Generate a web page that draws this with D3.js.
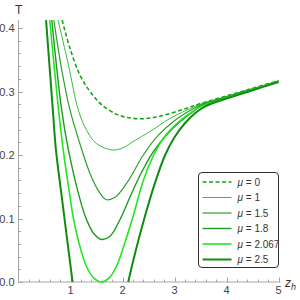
<!DOCTYPE html>
<meta charset="utf-8">
<script src="https://d3js.org/d3.v7.min.js"></script>
<style>
  body { margin: 0; background: white; }
  text { font-family: "Liberation Sans", Arial, sans-serif; }
</style>
<div id="chart"></div>
<script>

// values: [z_h, T]
const muLabels = ["0", "1", "1.5", "1.8", "2.067", "2.5"];

const curveMu0 = [[0.84,0.4125],[0.99,0.368],[1.18,0.326],[1.375,0.300],[1.6,0.279],[1.89,0.264],[2.1,0.259],[2.35,0.257],[2.6,0.259],[2.9,0.265],[3.25,0.274],[3.5,0.281],[4,0.293],[4.5,0.305],[5,0.317]];
const curveMu1 = [[0.76,0.4125],[0.96,0.342],[1.15,0.271],[1.31,0.239],[1.5,0.218],[1.8,0.208],[2.0,0.211],[2.2,0.221],[2.55,0.238],[2.9,0.257],[3.35,0.275],[3.5,0.280],[4,0.292],[4.5,0.304],[5,0.317]];
const curveMu15 = [[0.68,0.4125],[0.83,0.335],[0.99,0.271],[1.18,0.218],[1.375,0.171],[1.55,0.142],[1.68,0.130],[1.85,0.133],[2.1,0.158],[2.4,0.200],[2.7,0.232],[3.0,0.254],[3.3,0.270],[3.5,0.279],[4,0.292],[4.5,0.304],[5,0.316]];
const curveMu18 = [[0.64,0.4125],[0.83,0.271],[0.96,0.208],[1.2,0.125],[1.31,0.098],[1.45,0.076],[1.6,0.067],[1.76,0.072],[1.95,0.098],[2.14,0.133],[2.35,0.170],[2.59,0.205],[2.85,0.232],[3.1,0.252],[3.35,0.268],[3.5,0.277],[4,0.291],[4.5,0.304],[5,0.316]];
const curveMu2067 = [[0.60,0.4125],[0.77,0.271],[0.86,0.208],[1.0,0.129],[1.05,0.103],[1.18,0.056],[1.31,0.024],[1.45,0.006],[1.6,0.0],[1.75,0.007],[1.89,0.026],[2.03,0.058],[2.21,0.105],[2.4,0.160],[2.6,0.200],[2.8,0.228],[3.05,0.250],[3.3,0.266],[3.5,0.276],[4,0.290],[4.5,0.303],[5,0.316]];
// the mu = 2.5 curve leaves the plot below T = 0, so it is two pieces
const curveMu25 = [[0.53,0.4125],[0.66,0.271],[0.72,0.208],[0.84,0.129],[0.94,0.064],[1.04,0.0],[null,null],[2.11,0.0],[2.25,0.048],[2.43,0.103],[2.62,0.155],[2.82,0.200],[3.0,0.228],[3.2,0.250],[3.4,0.266],[3.6,0.277],[4,0.289],[4.5,0.302],[5,0.315]];

const xTicks = [1, 2, 3, 4, 5];
const yTicks = [0.0, 0.1, 0.2, 0.3, 0.4];

// line styles for each mu
const styles = [
  {color: "#1aa31a", width: 1.6, dash: "4,2.5"},
  {color: "#38bd38", width: 1,   dash: null},
  {color: "#2e9e2e", width: 1.2, dash: null},
  {color: "#209a20", width: 1.4, dash: null},
  {color: "#22e622", width: 1.6, dash: null},
  {color: "#108c10", width: 2,   dash: null}
];

const series = [curveMu0, curveMu1, curveMu15, curveMu18, curveMu2067, curveMu25];

const width = 300, height = 300;

const svg = d3.select("#chart")
  .append("svg")
    .attr("width", width)
    .attr("height", height);

const x = d3.scaleLinear().domain([0, 5]).range([18.5, 278.5]);
const y = d3.scaleLinear().domain([0, 0.4]).range([282, 28]);

// clip region of the plot
svg.append("clipPath").attr("id", "plotclip")
  .append("rect")
    .attr("x", x(0)).attr("y", y(0.4125))
    .attr("width", x(5.05) - x(0)).attr("height", y(0) - y(0.4125) + 1);

const axisColor = "#a6a6a6";

// y axis
const yAxis = svg.append("g").attr("transform", "translate(" + x(0) + ",0)");
yAxis.append("line")
  .attr("x1", 0).attr("x2", 0)
  .attr("y1", y(0)).attr("y2", y(0.4125))
  .attr("stroke", axisColor);
yAxis.selectAll(".minor")
  .data(d3.range(0, 0.4101, 0.02))
  .enter().append("line")
    .attr("x1", 0).attr("x2", 2.5)
    .attr("y1", d => Math.round(y(d)) + 0.5).attr("y2", d => Math.round(y(d)) + 0.5)
    .attr("stroke", axisColor);
yAxis.selectAll(".major")
  .data(yTicks)
  .enter().append("line")
    .attr("x1", 0).attr("x2", 4.5)
    .attr("y1", d => Math.round(y(d)) + 0.5).attr("y2", d => Math.round(y(d)) + 0.5)
    .attr("stroke", axisColor);
yAxis.selectAll("text")
  .data(yTicks)
  .enter().append("text")
    .attr("x", -4)
    .attr("y", d => y(d) + 4)
    .attr("text-anchor", "end")
    .attr("font-size", 11)
    .attr("fill", "#444")
    .text(d => d3.format(".1f")(d));

// x axis
const xAxis = svg.append("g").attr("transform", "translate(0," + y(0) + ")");
xAxis.append("line")
  .attr("x1", x(0)).attr("x2", x(5.04))
  .attr("y1", 0).attr("y2", 0)
  .attr("stroke", axisColor);
xAxis.selectAll(".minor")
  .data(d3.range(0.2, 5.01, 0.2))
  .enter().append("line")
    .attr("x1", d => Math.round(x(d)) + 0.5).attr("x2", d => Math.round(x(d)) + 0.5)
    .attr("y1", 0).attr("y2", -2.5)
    .attr("stroke", axisColor);
xAxis.selectAll(".major")
  .data(xTicks)
  .enter().append("line")
    .attr("x1", d => Math.round(x(d)) + 0.5).attr("x2", d => Math.round(x(d)) + 0.5)
    .attr("y1", 0).attr("y2", -4.5)
    .attr("stroke", axisColor);
xAxis.selectAll("text")
  .data(xTicks)
  .enter().append("text")
    .attr("x", d => x(d))
    .attr("y", 12)
    .attr("text-anchor", "middle")
    .attr("font-size", 11)
    .attr("fill", "#444")
    .text(d => d);

// axis labels
svg.append("text")
  .attr("x", 15).attr("y", 14)
  .attr("font-size", 12)
  .attr("fill", "#333")
  .text("T");

const zl = svg.append("text")
  .attr("x", 285).attr("y", 287)
  .attr("font-size", 12)
  .attr("fill", "#333");
zl.append("tspan").attr("font-style", "italic").text("z");
zl.append("tspan").attr("font-style", "italic").attr("font-size", 9).attr("dy", 3).text("h");

// curves
const line = d3.line()
  .defined(d => d[0] !== null)
  .x(d => x(d[0]))
  .y(d => y(d[1]))
  .curve(d3.curveCatmullRom.alpha(0.5));

svg.append("g")
  .attr("clip-path", "url(#plotclip)")
  .selectAll("path")
  .data(series)
  .enter().append("path")
    .attr("d", line)
    .attr("fill", "none")
    .attr("stroke", (d, i) => styles[i].color)
    .attr("stroke-width", (d, i) => styles[i].width)
    .attr("stroke-dasharray", (d, i) => styles[i].dash);

// legend
const legend = svg.append("g").attr("transform", "translate(198.5,172.5)");
legend.append("rect")
  .attr("width", 80).attr("height", 95)
  .attr("rx", 3.5)
  .attr("fill", "white")
  .attr("stroke", "#333")
  .attr("stroke-width", 1);

const rows = legend.selectAll(".row")
  .data(muLabels)
  .enter().append("g")
    .attr("transform", (d, i) => "translate(0," + (9.5 + i * 15.5) + ")");
rows.append("line")
  .attr("x1", 4).attr("x2", 33)
  .attr("stroke", (d, i) => styles[i].color)
  .attr("stroke-width", (d, i) => styles[i].width)
  .attr("stroke-dasharray", (d, i) => styles[i].dash);
const lt = rows.append("text")
  .attr("x", 39).attr("y", 3.5)
  .attr("font-size", 10)
  .attr("fill", "#333");
lt.append("tspan").attr("font-style", "italic").text("\u03bc");
lt.append("tspan").text(d => " = " + d);

</script>
